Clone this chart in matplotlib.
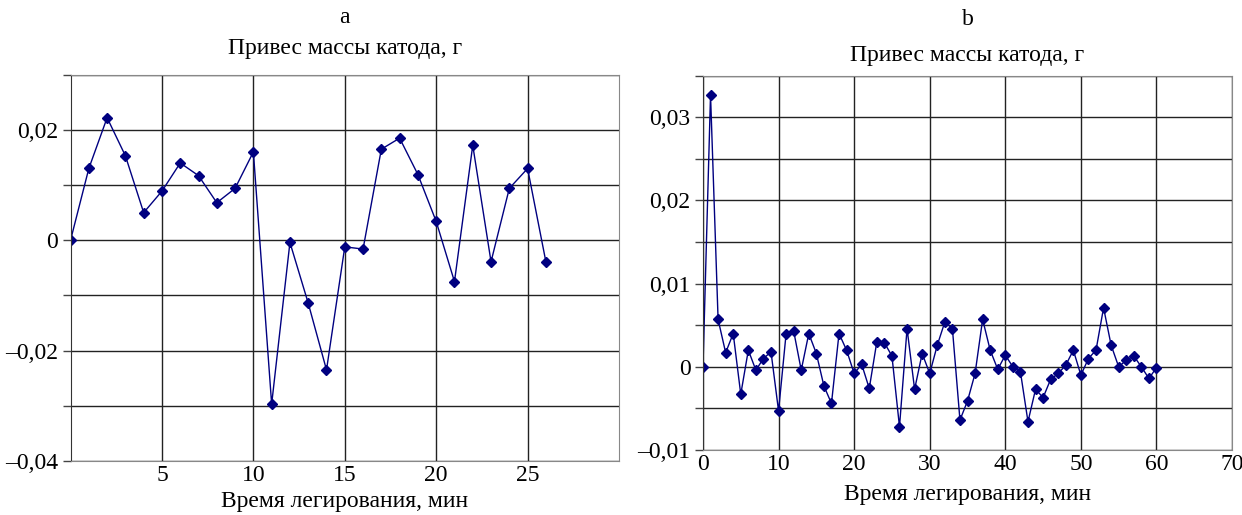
import numpy as np
import matplotlib
matplotlib.use("Agg")
import matplotlib.pyplot as plt
from matplotlib.ticker import FixedLocator, FuncFormatter

plt.rcParams['font.family'] = ['Liberation Serif', 'DejaVu Serif']

# panel a: cathode mass gain, 0..26 min
time_a = list(range(0, 27))
gain_a = [0.0, 0.0130, 0.0222, 0.0153, 0.0050, 0.0089, 0.0140, 0.0117, 0.0068,
          0.0094, 0.0160, -0.0297, -0.0004, -0.0114, -0.0235, -0.0012, -0.0016,
          0.0165, 0.0185, 0.0119, 0.0034, -0.0075, 0.0172, -0.0039, 0.0094,
          0.0130, -0.0039]

# panel b: cathode mass gain, 0..60 min
time_b = list(range(0, 61))
gain_b = [0.0, 0.0327, 0.0057, 0.0017, 0.0040, -0.0033, 0.0020, -0.0004, 0.0010,
          0.0018, -0.0053, 0.0040, 0.0043, -0.0004, 0.0040, 0.0016, -0.0023,
          -0.0044, 0.0040, 0.0020, -0.0008, 0.0003, -0.0026, 0.0030, 0.0029,
          0.0013, -0.0072, 0.0046, -0.0027, 0.0016, -0.0008, 0.0026, 0.0054,
          0.0046, -0.0064, -0.0041, -0.0008, 0.0057, 0.0020, -0.0003, 0.0014,
          0.0, -0.0006, -0.0066, -0.0027, -0.0037, -0.0015, -0.0008, 0.0002,
          0.0020, -0.0010, 0.0010, 0.0020, 0.0071, 0.0026, 0.0, 0.0008, 0.0013,
          0.0, -0.0014, -0.0001]

title = "Привес массы катода, г"
xlabel = "Время легирования, мин"
FS = 17


def ru_fmt(v, pos=None):
    if abs(v) < 1e-9:
        return "0"
    return f"{v:.2f}".replace(".", ",").replace("-", "\u2013")


def style_axes(ax, xgrid, yall, ylab, xlab):
    ax.xaxis.set_major_locator(FixedLocator(xlab))
    ax.xaxis.set_minor_locator(FixedLocator(xgrid))
    ax.yaxis.set_major_locator(FixedLocator(ylab))
    ax.yaxis.set_minor_locator(FixedLocator(yall))
    ax.yaxis.set_major_formatter(FuncFormatter(ru_fmt))
    ax.grid(True, which="both", color="#222222", lw=1.0)
    ax.tick_params(axis="x", which="both", length=0, labelsize=FS, pad=3)
    ax.tick_params(axis="y", which="both", length=6, width=1, color="#444444",
                   labelsize=FS, pad=3)
    for side in ["top", "right", "bottom"]:
        ax.spines[side].set_color("#888888")
    ax.spines["left"].set_color("#333333")
    ax.set_axisbelow(True)


fig = plt.figure(figsize=(12.42, 5.15), dpi=100)

ax1 = fig.add_axes([0.0568, 0.1049, 0.4416, 0.7501])
ax1.plot(time_a, gain_a, color="#000080", lw=1, marker="D", ms=5, mec="#000080")
ax1.set_xlim(0, 30)
ax1.set_ylim(-0.04, 0.03)
style_axes(ax1, [5, 10, 15, 20, 25], np.arange(-0.04, 0.031, 0.01),
           [-0.04, -0.02, 0, 0.02], [5, 10, 15, 20, 25])
ax1.text(0.5, 1.147, "a", transform=ax1.transAxes, ha="center", va="center", fontsize=FS)
ax1.text(0.5, 1.069, title, transform=ax1.transAxes, ha="center", va="center", fontsize=FS)
ax1.text(0.5, -0.106, xlabel, transform=ax1.transAxes, ha="center", va="center", fontsize=FS)

ax2 = fig.add_axes([0.566, 0.1262, 0.426, 0.7268])
ax2.plot(time_b, gain_b, color="#000080", lw=1, marker="D", ms=5, mec="#000080")
ax2.set_xlim(0, 70)
ax2.set_ylim(-0.01, 0.035)
style_axes(ax2, list(range(0, 71, 10)), np.arange(-0.01, 0.0351, 0.005),
           [-0.01, 0, 0.01, 0.02, 0.03], list(range(0, 71, 10)))
ax2.text(0.5, 1.149, "b", transform=ax2.transAxes, ha="center", va="center", fontsize=FS)
ax2.text(0.5, 1.055, title, transform=ax2.transAxes, ha="center", va="center", fontsize=FS)
ax2.text(0.5, -0.1176, xlabel, transform=ax2.transAxes, ha="center", va="center", fontsize=FS)

fig.savefig("out.png", dpi=100)
